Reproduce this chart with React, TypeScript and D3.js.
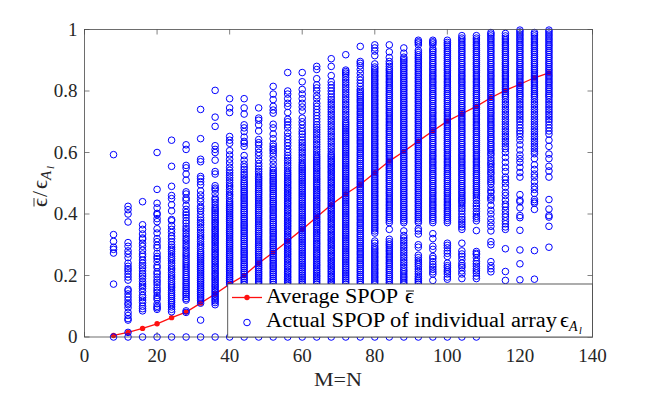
import React from "react";
import * as d3 from "d3";

const sizes = [8,12,16,20,24,28,32,36,40,44,48,52,56,60,64,68,72,76,80,84,88,92,96,100,104,108,112,116,120,124,128];
const average = [.005,.015,.028,.043,.063,.081,.11,.14,.172,.2,.24,.275,.312,.35,.39,.43,.465,.496,.534,.572,.603,.637,.67,.702,.726,.75,.778,.802,.822,.843,.859];

// individual array values in thousandths, one list per array size
const c8=[0,172,273,285,292,311,333,593];
const c12=[0,15,55,60,70,80,95,105,110,120,130,140,150,155,185,195,205,215,222,230,240,258,270,280,295,307,374,400,414,425];
const c16=[0,85,92,100,112,120,128,135,148,158,165,172,180,190,198,205,215,225,232,240,250,262,270,282,295,305,318,322,335,350,365,440];
const c20=[0,90,95,100,108,122,128,135,145,152,160,170,178,185,195,205,212,225,232,245,255,262,272,290,298,310,320,338,352,375,385,398,402,420,435,480,600];
const c24=[0,82,90,98,105,112,118,125,132,138,145,152,160,166,173,180,188,195,202,210,218,224,232,240,248,255,262,270,278,285,292,300,310,320,328,340,350,362,378,382,410,430,450,460,490,555,640];
const c28=[0,80,85,120,125,132,138,144,150,157,163,170,176,183,190,196,203,210,217,224,231,238,245,252,260,267,274,282,290,297,305,313,320,328,336,345,352,360,370,378,388,397,405,415,428,445,452,465,472,510,530,550,558,610,625];
const c32=[0,55,110,118,124,130,136,142,148,154,160,166,172,178,184,190,196,202,208,214,220,226,232,238,244,250,256,262,268,274,280,288,295,302,310,318,325,332,340,348,356,365,372,380,388,398,410,418,425,440,450,462,475,495,505,515,522,570,578,645,740];
const c36=[0,105,112,118,123,129,134,140,146,151,157,163,168,174,180,186,191,197,203,208,214,220,226,231,237,243,248,254,260,266,271,277,283,288,294,300,306,311,317,323,328,334,340,346,351,357,363,369,374,380,386,392,398,404,410,416,422,430,438,446,452,466,478,484,492,530,538,575,600,610,622,685,715,802];
const c40=[0,172,178,184,190,196,202,208,214,220,226,232,238,244,250,256,262,268,274,280,286,292,298,304,310,316,322,328,334,340,346,352,358,364,370,376,382,388,394,400,406,412,418,424,430,436,442,450,458,464,472,480,488,494,502,510,518,526,534,542,552,566,578,592,606,630,640,652,730,745,775];
const c44=[0,171,178,185,191,197,204,210,216,223,229,235,241,248,254,260,267,273,279,285,292,298,304,311,317,323,329,336,342,348,355,361,367,373,380,386,392,399,405,411,417,424,430,436,443,449,455,461,468,474,480,487,493,499,505,512,520,528,536,545,553,562,575,590,620,630,636,650,668,680,690,725,745,775];
const c48=[0,170,176,182,189,195,201,207,213,220,226,232,238,244,250,257,263,269,275,281,288,294,300,306,312,318,325,331,337,343,349,356,362,368,374,380,386,393,399,405,411,417,424,430,436,442,448,454,461,467,473,479,485,492,498,504,510,516,522,530,538,546,555,564,576,590,600,612,625,632,642,670,690,705,712,745];
const c52=[0,171,178,184,190,197,203,209,215,222,228,234,240,247,253,259,266,272,278,284,291,297,303,309,316,322,328,335,341,347,353,360,366,372,378,385,391,397,404,410,416,422,429,435,441,447,454,460,466,473,479,485,491,498,504,510,516,523,529,535,542,550,562,575,588,598,606,612,620,628,645,660,680,692,728,738,750,772,790,815];
const c56=[0,170,176,181,187,193,198,204,210,215,221,227,232,238,244,250,255,261,267,272,278,284,289,295,301,306,312,318,323,329,335,341,346,352,358,363,369,375,380,386,392,397,403,409,414,420,426,432,437,443,449,454,460,466,471,477,483,488,494,500,505,511,517,523,529,535,542,550,558,566,574,582,590,600,610,622,632,642,652,664,680,690,700,708,730,750,760,775,790,800,860];
const c60=[0,171,177,183,189,195,201,207,213,219,225,231,237,243,249,255,261,267,273,279,285,291,297,303,309,315,321,327,333,339,345,351,357,363,369,375,381,387,393,399,405,411,417,423,429,435,441,447,453,459,465,471,477,483,489,495,501,507,513,519,525,531,537,543,549,555,561,568,576,584,592,600,608,616,624,632,640,650,660,668,678,690,700,712,735,748,760,775,790,805,830,860];
const c64=[0,172,178,184,190,196,201,207,213,219,225,231,236,242,248,254,260,266,271,277,283,289,295,301,306,312,318,324,330,336,341,347,353,359,365,371,376,382,388,394,400,406,411,417,423,429,435,441,446,452,458,464,470,476,481,487,493,499,505,511,516,522,528,534,540,546,551,557,563,569,575,581,587,594,602,610,618,626,634,642,650,658,666,674,682,690,700,710,720,730,740,750,760,775,785,800,810,820,840,870,880];
const c68=[0,171,177,182,188,194,199,205,211,216,222,228,233,239,245,250,256,262,267,273,279,284,290,296,301,307,313,318,324,330,335,341,347,352,358,364,369,375,381,386,392,398,403,409,415,420,426,432,437,443,449,454,460,466,471,477,483,488,494,500,505,511,517,522,528,534,539,545,551,556,562,568,573,579,585,590,596,604,612,620,628,636,644,652,660,668,676,684,692,700,708,716,724,732,740,748,756,764,772,780,790,800,810,820,830,850,880,905];
const c72=[0,172,178,184,190,196,202,208,214,220,226,232,238,244,250,256,262,268,274,280,286,292,298,304,310,316,322,328,334,340,346,352,358,364,370,376,382,388,394,400,406,412,418,424,430,436,442,448,454,460,466,472,478,484,490,496,502,508,514,520,526,532,538,544,550,556,562,568,574,580,586,592,598,604,610,616,622,628,634,640,646,652,658,664,670,676,682,688,694,700,708,716,724,732,740,748,756,764,772,780,788,796,804,812,820,828,836,844,852,858,863,868,918];
const c76=[0,171,178,184,191,197,203,210,216,222,229,235,241,248,254,260,267,273,279,286,292,298,305,311,317,324,330,336,343,349,355,362,368,374,381,387,393,400,406,412,419,425,431,438,444,450,457,463,469,476,482,488,495,501,507,514,520,526,533,539,545,552,558,564,571,577,583,590,596,602,609,615,621,628,634,640,647,653,659,666,672,678,685,691,697,704,710,716,723,729,735,742,748,754,761,767,773,780,786,792,799,805,815,825,835,845,858,870,882,890,896,945];
const c80=[0,172,179,185,192,198,205,211,218,224,231,237,244,250,257,263,270,276,283,289,296,305,312,338,345,352,358,365,371,378,384,391,397,404,410,417,423,430,436,443,449,456,462,469,475,482,488,495,501,508,514,521,527,534,540,547,553,560,566,573,579,586,592,599,605,612,618,625,631,638,644,651,657,664,670,677,683,690,696,703,709,716,722,729,735,742,748,755,761,768,774,781,787,794,800,807,813,820,826,833,839,846,852,859,865,872,878,888,915,930,940,950];
const c84=[0,170,177,184,190,197,203,210,217,223,230,237,243,250,257,263,270,277,283,290,297,303,310,318,350,372,379,386,392,399,406,412,419,426,432,439,446,452,459,466,472,479,486,492,499,506,512,519,526,532,539,546,552,559,566,572,579,586,592,599,606,612,619,626,632,639,646,652,659,666,672,679,686,692,699,706,712,719,726,732,739,746,752,759,766,772,779,786,792,799,806,812,819,826,832,839,846,852,859,866,872,880,888,896,909,927,950];
const c88=[0,172,178,185,192,198,205,212,218,226,234,242,250,258,266,274,282,290,298,306,314,322,330,345,372,378,385,391,398,404,411,417,424,430,437,443,450,456,463,469,476,482,489,495,502,508,515,521,528,534,541,547,554,560,567,573,580,586,593,599,606,612,619,625,632,638,645,651,658,664,671,677,684,690,697,703,710,716,723,729,736,742,749,755,762,768,775,781,788,794,801,807,814,820,827,833,840,846,853,859,866,872,879,885,892,898,904,910,923,940];
const c92=[0,172,178,184,190,197,205,213,221,229,236,243,250,258,266,292,300,335,345,352,372,378,385,391,398,404,411,417,424,430,437,443,450,456,463,469,476,482,489,495,502,508,515,521,528,534,541,547,554,560,567,573,580,586,593,599,606,612,619,625,632,638,645,651,658,664,671,677,684,690,697,703,710,716,723,729,736,742,749,755,762,768,775,781,788,794,801,807,814,820,827,833,840,846,853,859,866,872,879,885,892,898,905,911,918,925,932,950,956,960,965];
const c96=[0,184,205,212,220,228,236,245,255,262,285,295,320,336,372,379,386,392,399,406,412,419,426,432,439,446,452,459,466,472,479,486,492,499,506,512,519,526,532,539,546,552,559,566,572,579,586,592,599,606,612,619,626,632,639,646,652,659,666,672,679,686,692,699,706,712,719,726,732,739,746,752,759,766,772,779,786,792,799,806,812,819,826,832,839,846,852,859,866,872,879,886,892,899,906,912,919,926,932,938,950,956,960,965];
const c100=[0,188,195,205,212,218,226,232,240,262,272,280,290,298,305,372,379,386,392,399,406,412,419,426,432,439,446,452,459,466,472,479,486,492,499,506,512,519,526,532,539,546,552,559,566,572,579,586,592,599,606,612,619,626,632,639,646,652,659,666,672,679,686,692,699,706,712,719,726,732,739,746,752,759,766,772,779,786,792,799,806,812,819,826,832,839,846,852,859,866,872,879,886,892,899,906,912,919,926,932,939,946,952,958,965];
const c104=[0,190,205,215,226,232,240,252,262,270,280,305,350,358,366,374,382,390,400,410,418,426,434,440,446,452,459,466,472,479,486,492,499,506,512,519,526,532,539,546,552,559,566,572,579,586,592,599,606,612,619,626,632,639,646,652,659,666,672,679,686,692,699,706,712,719,726,732,739,746,752,759,766,772,779,786,792,799,806,812,819,826,832,839,846,852,859,866,872,879,886,892,899,906,912,919,926,932,939,946,952,959,966,972,980];
const c108=[0,190,198,208,215,222,230,238,246,258,268,272,278,346,378,386,392,400,408,418,426,434,444,452,459,466,472,479,486,492,499,506,512,519,526,532,539,546,552,559,566,572,579,586,592,599,606,612,619,626,632,639,646,652,659,666,672,679,686,692,699,706,712,719,726,732,739,746,752,759,766,772,779,786,792,799,806,812,819,826,832,839,846,852,859,866,872,879,886,892,899,906,912,919,926,932,939,946,952,959,966,972,980];
const c112=[212,222,232,245,300,310,345,360,372,384,400,412,428,445,452,458,470,476,486,498,505,512,520,530,536,544,552,560,566,574,582,592,598,606,612,619,626,632,640,646,652,659,666,672,679,686,692,699,706,712,719,726,732,739,746,752,759,766,772,779,786,792,799,806,812,819,826,832,839,846,852,859,866,872,879,886,892,899,906,912,919,926,932,939,946,952,959,966,972,979,985,990];
const c116=[184,213,287,350,358,368,378,390,400,412,424,432,445,460,470,487,500,512,520,538,552,568,584,600,612,620,628,636,644,652,660,668,676,684,692,700,708,716,724,732,740,748,756,764,772,780,786,792,799,806,812,819,826,832,839,846,852,859,866,872,879,886,892,899,906,912,919,926,932,939,946,952,959,966,972,979,987];
const c120=[186,238,283,347,388,395,420,440,445,463,520,535,552,568,580,592,608,625,640,652,662,670,680,690,700,708,716,724,732,740,748,756,764,772,780,786,792,799,806,812,819,826,832,839,846,852,859,866,872,879,886,892,899,906,912,919,926,932,939,946,952,959,966,972,979,985,992,998];
const c124=[188,281,415,435,440,447,467,480,490,505,520,530,545,560,580,596,604,612,620,628,636,644,652,660,668,676,684,692,700,708,716,724,732,740,748,756,764,772,780,786,792,799,806,812,819,826,832,839,846,852,859,866,872,879,886,892,899,906,912,919,926,932,939,946,952,959,966,972,979,985,990];
const c128=[292,360,390,395,416,447,520,540,555,580,595,620,640,660,670,680,690,700,708,716,724,732,740,748,756,764,772,780,786,792,799,806,812,819,826,832,839,846,852,859,866,872,879,886,892,899,906,912,919,926,932,939,946,952,959,966,972,979,985,992,998];
const columns = [c8,c12,c16,c20,c24,c28,c32,c36,c40,c44,c48,c52,c56,c60,c64,c68,c72,c76,c80,c84,c88,c92,c96,c100,c104,c108,c112,c116,c120,c124,c128];

const xTicks = [0,20,40,60,80,100,120,140];
const yTicks = [0,0.2,0.4,0.6,0.8,1];
const legendLine = "Average SPOP";
const legendCircle = "Actual SPOP of individual array";
const xTitle = "M=N";

const FONT = "'Liberation Serif', serif";
const AXIS = "#4a4a4a";
const BLUE = "#0000ff";
const RED = "#ff1010";

export default function App() {
  const x = d3.scaleLinear().domain([0,140]).range([84.5,592.5]);
  const y = d3.scaleLinear().domain([0,1]).range([337,29.5]);
  const path = d3.line<number>().x((_,i)=>x(sizes[i])).y(d=>y(d))(average) || "";
  return (
    <svg width={654} height={393} style={{position:"absolute",left:0,top:0,background:"#fff"}} fontFamily={FONT}>
      <path d={path} fill="none" stroke={RED} strokeWidth={1.3}/>
      {average.map((d,i)=><circle key={i} cx={x(sizes[i])} cy={y(d)} r={2.7} fill={RED}/>)}
      {columns.map((col,i)=>col.map((v,j)=>(
        <circle key={i+"-"+j} cx={x(sizes[i])} cy={y(v/1000)} r={3.3} fill="none" stroke={BLUE} strokeWidth={1}/>
      )))}
      <rect x={x(0)} y={y(1)} width={x(140)-x(0)} height={y(0)-y(1)} fill="none" stroke={AXIS} strokeWidth={0.8}/>
      {xTicks.map(t=>(
        <g key={t}>
          <line x1={x(t)} x2={x(t)} y1={y(0)} y2={y(0)-5} stroke={AXIS} strokeWidth={0.7}/>
          <line x1={x(t)} x2={x(t)} y1={y(1)} y2={y(1)+5} stroke={AXIS} strokeWidth={0.7}/>
          <text x={x(t)} y={362} textAnchor="middle" fontSize={19} fill="#262626">{t}</text>
        </g>
      ))}
      {yTicks.map(t=>(
        <g key={t}>
          <line x1={x(0)} x2={x(0)+5} y1={y(t)} y2={y(t)} stroke={AXIS} strokeWidth={0.7}/>
          <line x1={x(140)} x2={x(140)-5} y1={y(t)} y2={y(t)} stroke={AXIS} strokeWidth={0.7}/>
          <text x={77.5} y={y(t)+6} textAnchor="end" fontSize={19} fill="#262626">{t}</text>
        </g>
      ))}
      <text x={338} y={386} textAnchor="middle" fontSize={19} fill="#262626" textLength={48} lengthAdjust="spacingAndGlyphs">{xTitle}</text>
      <g transform="translate(47,207) rotate(-90)" fill="#262626">
        <text x={0} y={0} fontSize={22}>ϵ</text>
        <line x1={0.5} x2={9} y1={-13} y2={-13} stroke="#262626" strokeWidth={0.9}/>
        <text x={10} y={0} fontSize={22}>/</text>
        <text x={18} y={0} fontSize={22}>ϵ</text>
        <text x={27} y={4} fontSize={15} fontStyle="italic">A</text>
        <text x={38} y={7} fontSize={11} fontStyle="italic">l</text>
      </g>
      <rect x={227.7} y={284} width={364.8} height={53} fill="#fff" stroke={AXIS} strokeWidth={0.9}/>
      <line x1={232} x2={262} y1={297.5} y2={297.5} stroke={RED} strokeWidth={1.3}/>
      <circle cx={247} cy={297.5} r={2.7} fill={RED}/>
      <circle cx={247} cy={322.5} r={3.3} fill="none" stroke={BLUE} strokeWidth={1}/>
      <text x={266} y={303} fontSize={20} fill="#000" textLength={132} lengthAdjust="spacingAndGlyphs">{legendLine}</text>
      <text x={405} y={303} fontSize={22} fill="#000">ϵ</text>
      <line x1={406} x2={414} y1={291} y2={291} stroke="#000" strokeWidth={0.9}/>
      <text x={266} y={327} fontSize={20} fill="#000" textLength={291} lengthAdjust="spacingAndGlyphs">{legendCircle}</text>
      <text x={560} y={327} fontSize={22} fill="#000">ϵ</text>
      <text x={569} y={331} fontSize={14} fontStyle="italic" fill="#000">A</text>
      <text x={579} y={334} fontSize={10} fontStyle="italic" fill="#000">l</text>
    </svg>
  );
}
